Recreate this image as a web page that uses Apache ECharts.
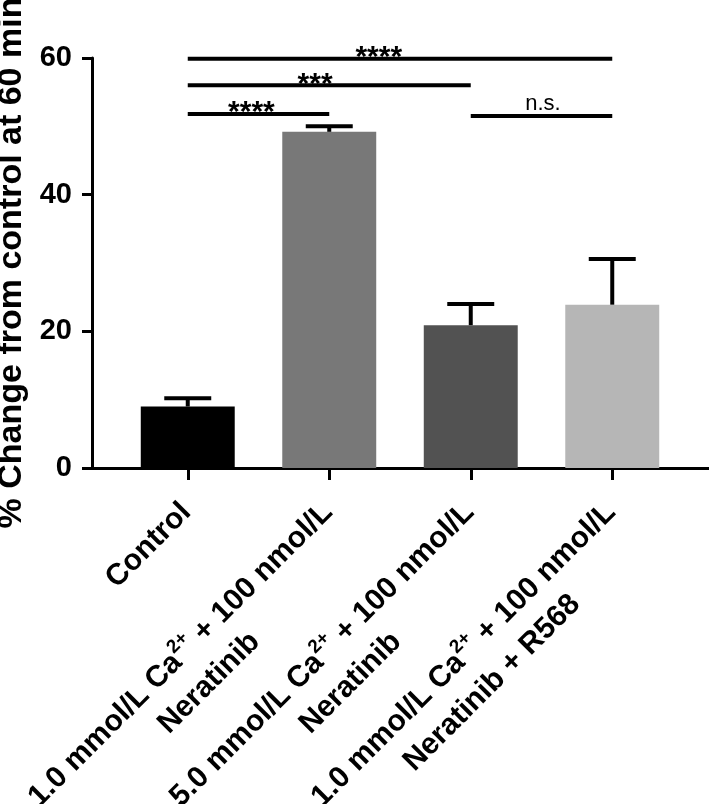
<!DOCTYPE html>
<html><head><meta charset="utf-8">
<script src="https://cdn.jsdelivr.net/npm/echarts@6/dist/echarts.min.js"></script>
<style>html,body{margin:0;padding:0;background:#fff}#c{width:709px;height:804px}</style>
</head><body><div id="c"></div>
<script>
const categories = ['Control', '1.0 mmol/L Ca²⁺ + 100 nmol/L\nNeratinib', '5.0 mmol/L Ca²⁺ + 100 nmol/L\nNeratinib', '1.0 mmol/L Ca²⁺ + 100 nmol/L\nNeratinib + R568'];
const means = [9.0, 49.2, 20.9, 23.9];
const errUpper = [10.2, 50.0, 24.0, 30.6];
const barColors = ['#000000', '#787878', '#525252', '#b6b6b6'];
const yTicks = [0, 20, 40, 60];
const yTitle = '% Change from control at 60 min';
// significance brackets
const sigFrom = [0, 0, 0, 2];
const sigTo = [3, 2, 1, 3];
const sigY = [59.9, 56.0, 51.8, 51.5];
const sigLabel = ['****', '***', '****', 'n.s.'];
const sigLabelAt = [1.35, 0.90, 0.45, 2.51];

const FONT = 'Liberation Sans, Arial, sans-serif';
const chart = echarts.init(document.getElementById('c'), null, {renderer: 'canvas'});

const labelRich = {
  b: {fontFamily: FONT, fontWeight: 'bold', fontSize: 30, lineHeight: 40, color: '#000'},
  sup: {fontFamily: FONT, fontWeight: 'bold', fontSize: 19, lineHeight: 22, verticalAlign: 'top', color: '#000'},
  c: {fontFamily: FONT, fontWeight: 'bold', fontSize: 30, lineHeight: 40, color: '#000', align: 'center'}
};
function fmtLabel(v) {
  const lines = v.split('\n');
  let out = '';
  const p = lines[0].split('²⁺');
  if (p.length > 1) out = '{b|' + p[0] + '}{sup|2+}{b|' + p[1] + '}';
  else out = '{b|' + p[0] + '}';
  if (lines.length > 1) out += '\n{c|' + lines[1] + '}';
  return out;
}

const barData = means.map((m, i) => ({value: m, itemStyle: {color: barColors[i]}}));
const errData = means.map((m, i) => [i, m, errUpper[i]]);
const sigData = sigY.map((y, i) => [sigFrom[i], sigTo[i], y, sigLabelAt[i], i]);

const option = {
  animation: false,
  backgroundColor: '#fff',
  grid: [
    {left: 117, right: 26, top: 58, bottom: 336, containLabel: false, outerBoundsMode: 'none'},
    {left: 92, right: 0, top: 58, bottom: 336, containLabel: false, outerBoundsMode: 'none'}
  ],
  xAxis: [
    {
      type: 'category', gridIndex: 0, data: categories,
      axisLine: {show: false},
      axisTick: {show: true, alignWithLabel: true, interval: 0, length: 12, lineStyle: {color: '#000', width: 3}},
      axisLabel: {interval: 0, rotate: 45, align: 'right', verticalAlign: 'top', margin: 10,
        padding: [0, 22, 0, 0],
        hideOverlap: false, formatter: fmtLabel, rich: labelRich, color: '#000'},
      splitLine: {show: false}
    },
    {
      type: 'value', gridIndex: 1, min: 0, max: 1,
      axisLine: {show: true, lineStyle: {color: '#000', width: 3}},
      axisTick: {show: false}, axisLabel: {show: false}, splitLine: {show: false}
    }
  ],
  yAxis: [
    {
      type: 'value', gridIndex: 0, min: yTicks[0], max: yTicks[yTicks.length - 1], interval: 20, offset: 25,
      name: yTitle, nameLocation: 'middle', nameGap: 63,
      nameTextStyle: {fontFamily: FONT, fontWeight: 'bold', fontSize: 34, color: '#000'},
      axisLine: {show: true, lineStyle: {color: '#000', width: 3}},
      axisTick: {show: true, length: 10, lineStyle: {color: '#000', width: 3}},
      axisLabel: {margin: 20, fontFamily: FONT, fontWeight: 'bold', fontSize: 29, color: '#000'},
      splitLine: {show: false}
    },
    {type: 'value', gridIndex: 1, min: 0, max: 1, show: false}
  ],
  series: [
    {
      type: 'bar', xAxisIndex: 0, yAxisIndex: 0, data: barData, barWidth: '66.4%', z: 2
    },
    {
      type: 'custom', xAxisIndex: 0, yAxisIndex: 0, data: errData, z: 3,
      encode: {x: 0, y: 2},
      renderItem: function (params, api) {
        const i = api.value(0);
        const base = api.coord([i, api.value(1)]);
        const top = api.coord([i, api.value(2)]);
        const band = api.size([1, 0])[0];
        const half = band * 0.166;
        const st = {stroke: '#000', lineWidth: 4};
        return {type: 'group', children: [
          {type: 'line', shape: {x1: base[0], y1: base[1], x2: top[0], y2: top[1]}, style: st},
          {type: 'line', shape: {x1: top[0] - half, y1: top[1], x2: top[0] + half, y2: top[1]}, style: st}
        ]};
      }
    },
    {
      type: 'custom', xAxisIndex: 0, yAxisIndex: 0, data: sigData, z: 4,
      encode: {x: 0, y: 2},
      renderItem: function (params, api) {
        const y = api.value(2);
        const p1 = api.coord([api.value(0), y]);
        const p2 = api.coord([api.value(1), y]);
        const p0 = api.coord([0, y]);
        const band = api.size([1, 0])[0];
        const lx = p0[0] + api.value(3) * band;
        const idx = api.value(4);
        const txt = sigLabel[idx];
        const isNs = txt === 'n.s.';
        return {type: 'group', children: [
          {type: 'line', shape: {x1: p1[0], y1: p1[1], x2: p2[0], y2: p2[1]}, style: {stroke: '#000', lineWidth: 4}},
          {type: 'text', style: {
            text: txt, x: lx, y: isNs ? p1[1] - 12 : p1[1] - 1,
            align: 'center', verticalAlign: 'middle',
            fontFamily: FONT, fontSize: isNs ? 22 : 30, fontWeight: isNs ? 'normal' : 'bold', fill: '#000'
          }}
        ]};
      }
    }
  ]
};
chart.setOption(option);
</script>
</body></html>
